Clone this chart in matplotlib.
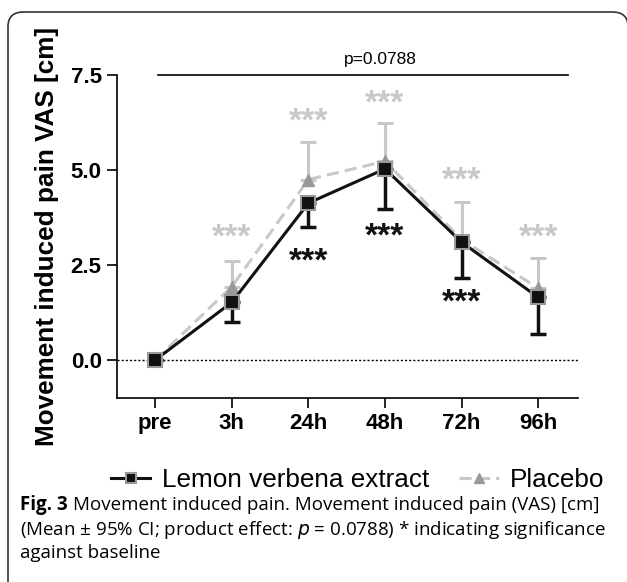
import matplotlib
matplotlib.use("Agg")
import matplotlib.pyplot as plt
from matplotlib.patches import FancyBboxPatch

# data
labels = ["pre", "3h", "24h", "48h", "72h", "96h"]
lemon = [0.0, 1.52, 4.13, 5.03, 3.10, 1.65]
lemon_low = [0.0, 0.99, 3.49, 3.98, 2.17, 0.69]
placebo = [0.0, 1.93, 4.75, 5.23, 3.17, 1.89]
placebo_high = [0.0, 2.61, 5.73, 6.24, 4.16, 2.68]
placebo_star_y = [None, 3.41, 6.46, 6.94, 4.90, 3.41]
lemon_star_y = [None, None, 2.79, 3.43, 1.69, None]
p_text = "p=0.0788"

plt.rcParams['font.family'] = ['Liberation Sans', 'DejaVu Sans']

fig = plt.figure(figsize=(6.27, 5.82), dpi=100)
ax = fig.add_axes([117/627, 1-398/582, 461/627, 323/582])

x = list(range(len(labels)))
gray_line = '#c8c8c8'

# placebo (behind)
ax.errorbar(x, placebo,
            yerr=[[0]*len(x), [h - m for h, m in zip(placebo_high, placebo)]],
            fmt='none', ecolor=gray_line, elinewidth=2.2, capsize=6, capthick=2.2, zorder=2)
ax.plot(x, placebo, color=gray_line, lw=2.2, ls=(0, (4, 2)), marker='^', ms=9,
        mfc='#999999', mec='#999999', zorder=3, label='Placebo')

# lemon verbena
ax.errorbar(x, lemon,
            yerr=[[m - l for m, l in zip(lemon, lemon_low)], [0]*len(x)],
            fmt='none', ecolor='#111111', elinewidth=2.5, capsize=6, capthick=2.5, zorder=4)
ax.plot(x, lemon, color='#111111', lw=2.2, marker='s', ms=10,
        mfc='#111111', mec='#999999', mew=1.5, zorder=5, label='Lemon verbena extract')

# asterisks, offset so the glyphs (which sit high in the font) land on the read position
for xi, y in zip(x, placebo_star_y):
    if y is not None:
        ax.text(xi, y - 0.2, '***', color=gray_line, fontsize=24, fontweight='bold',
                ha='center', va='center', zorder=6)
for xi, y in zip(x, lemon_star_y):
    if y is not None:
        ax.text(xi, y - 0.2, '***', color='#111111', fontsize=24, fontweight='bold',
                ha='center', va='center', zorder=6)

ax.axhline(0, color='black', lw=1, ls=(0, (1.5, 1.5)), zorder=1)

# p-value bar
ax.plot([0.03, 5.39], [7.5, 7.5], color='black', lw=1.2, clip_on=False)
ax.text(2.94, 7.92, p_text, ha='center', va='center', fontsize=12.5, clip_on=False)

ax.set_xlim(-0.5, 5.52)
ax.set_ylim(-1.0, 7.5)
ax.set_xticks(x)
ax.set_xticklabels(labels, fontsize=16, fontweight='bold')
ax.set_yticks([0, 2.5, 5.0, 7.5])
ax.set_yticklabels(['0.0', '2.5', '5.0', '7.5'], fontsize=16, fontweight='bold')
ax.tick_params(length=7, width=1.2, direction='out', pad=4)
ax.spines['top'].set_visible(False)
ax.spines['right'].set_visible(False)
for s in ['left', 'bottom']:
    ax.spines[s].set_linewidth(1.2)
ax.set_ylabel('Movement induced pain VAS [cm]', fontsize=18.8, fontweight='bold', labelpad=8)

h, l = ax.get_legend_handles_labels()
fig.legend(h[::-1], l[::-1], loc='center', bbox_to_anchor=(358/627, 1-480/582), ncol=2,
           frameon=False, fontsize=18.8, handlelength=1.5, columnspacing=1.15,
           handletextpad=0.45, markerscale=0.75)

# caption
cap_font = ['Open Sans', 'DejaVu Sans']
cap_size = 13.5
fig.text(20/627, 1-505/582, 'Fig. 3', fontsize=cap_size, fontweight='bold', family=cap_font, va='center')
fig.text(73/627, 1-505/582, 'Movement induced pain. Movement induced pain (VAS) [cm]',
         fontsize=cap_size, family=cap_font, va='center')
fig.text(20/627, 1-530/582, '(Mean ± 95% CI; product effect: $\\it{p}$ = 0.0788) * indicating significance',
         fontsize=cap_size, family=cap_font, va='center')
fig.text(20/627, 1-553/582, 'against baseline', fontsize=cap_size, family=cap_font, va='center')

# rounded frame
box = FancyBboxPatch((8/627, -0.05), 620/627, 1-12/582+0.05,
                     boxstyle='round,pad=0,rounding_size=0.025', transform=fig.transFigure,
                     fill=False, ec='#333333', lw=1.2, clip_on=False)
fig.patches.append(box)

fig.savefig('out.png', dpi=100)
